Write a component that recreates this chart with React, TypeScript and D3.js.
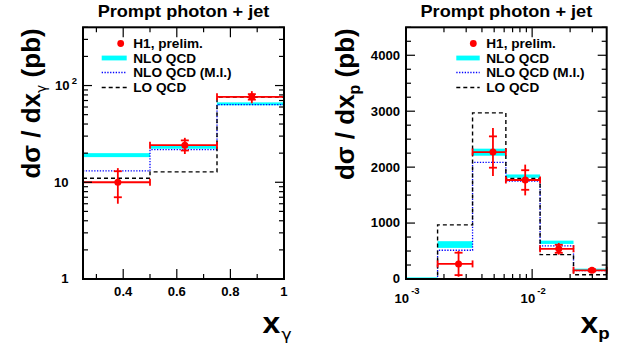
import React from 'react';
import * as d3 from 'd3';

const W = 626;
const H = 353;
const FONT = '"Liberation Sans", Arial, Helvetica, sans-serif';
const GREEK = '"DejaVu Sans", "Liberation Sans", sans-serif';

// ---------- Left panel: d sigma / d x_gamma ----------
const xgEdges = [0.25, 0.5, 0.75, 1.0];
const xgH1X = [0.38, 0.63, 0.88];
const xgH1 = [10, 24.2, 76.5];
const xgH1Stat = [3, 2.9, 5];
const xgH1Tot = [4, 4.6, 11];
const xgNloLow = [18.2, 22.2, 62.5];
const xgNloHigh = [20.0, 24.0, 67];
const xgNloMI = [13.1, 21.7, 63.5];
const xgLO = [11.0, 12.8, 76];
const xgXLabels = [0.4, 0.6, 0.8, 1];
const xgYLabels = [1, 10, 100];

// ---------- Right panel: d sigma / d x_p ----------
const xpEdges = [0.001, 0.00178, 0.00337, 0.00619, 0.01156, 0.02128, 0.039];
const xpH1X = [0.00261, 0.00489, 0.00881, 0.01626, 0.0298];
const xpH1 = [270, 2270, 1770, 540, 155];
const xpH1Stat = [200, 280, 175, 72, 20];
const xpH1Tot = [230, 430, 275, 105, 35];
const xpNloLow = [0, 556, 2204, 1810, 627, 161];
const xpNloHigh = [0, 676, 2330, 1869, 686, 185];
const xpNloMI = [0, 514, 2084, 1751, 591, 149];
const xpLO = [0, 968, 2970, 1798, 436, 77];
const xpXLabels = [0.001, 0.01];
const xpYLabels = [0, 1000, 2000, 3000, 4000];

const legendLabels = ['H1, prelim.', 'NLO QCD', 'NLO QCD (M.I.)', 'LO QCD'];
const titleText = 'Prompt photon + jet';

const RED = '#ff0000';
const CYAN = '#00ffff';
const BLUE = '#0000ff';

const top = 27.3;
const bottom = 279;
const SX = 1.1;

type Frame = { x0: number; x1: number };

function stepPath(edges: number[], vals: number[], xs: any, ys: any) {
  const pts: [number, number][] = vals.map((v, i) => [edges[i], v]);
  pts.push([edges[edges.length - 1], vals[vals.length - 1]]);
  const line = d3
    .line<[number, number]>()
    .x((d) => xs(d[0]))
    .y((d) => ys(d[1]))
    .curve(d3.curveStepAfter);
  return line(pts) || '';
}

function Ticks({ xs, ys, fr, xt, yt, xMajor, yMajor }: any) {
  const out: any[] = [];
  xt.forEach((v: number, i: number) => {
    const x = xs(v);
    const L = xMajor(v) ? 10 : 5;
    out.push(<line key={'xb' + i} x1={x} x2={x} y1={bottom} y2={bottom - L} stroke="#000" strokeWidth={1.2} />);
    out.push(<line key={'xt' + i} x1={x} x2={x} y1={top} y2={top + L} stroke="#000" strokeWidth={1.2} />);
  });
  yt.forEach((v: number, i: number) => {
    const y = ys(v);
    const L = yMajor(v) ? 9 : 5;
    out.push(<line key={'yl' + i} x1={fr.x0} x2={fr.x0 + L} y1={y} y2={y} stroke="#000" strokeWidth={1.2} />);
    out.push(<line key={'yr' + i} x1={fr.x1} x2={fr.x1 - L} y1={y} y2={y} stroke="#000" strokeWidth={1.2} />);
  });
  return <g>{out}</g>;
}

function Txt({ x, y, size, anchor = 'start', sx = SX, children }: any) {
  return (
    <text
      transform={`translate(${x},${y}) scale(${sx},1)`}
      fontSize={size}
      fontWeight="bold"
      fontFamily={FONT}
      textAnchor={anchor}
      fill="#000"
    >
      {children}
    </text>
  );
}

function Legend({ lx0, lx1, dotX, tx }: any) {
  const rows = [43.5, 58, 72.5, 87.5];
  return (
    <g>
      <circle cx={dotX} cy={rows[0]} r={3.4} fill={RED} />
      <rect x={lx0} y={rows[1] - 2.4} width={lx1 - lx0} height={4.8} fill={CYAN} />
      <line x1={lx0} x2={lx1} y1={rows[2]} y2={rows[2]} stroke={BLUE} strokeWidth={1.3} strokeDasharray="1.3 1.5" />
      <line x1={lx0} x2={lx1} y1={rows[3]} y2={rows[3]} stroke="#000" strokeWidth={1.4} strokeDasharray="4 3" />
      {legendLabels.map((t, i) => (
        <Txt key={i} x={tx} y={rows[i] + 4.6} size={12.6} sx={1.08}>
          {t}
        </Txt>
      ))}
    </g>
  );
}

function Points({ xs, ys, xv, vals, stat, tot, lo, hi }: any) {
  return (
    <g stroke={RED} strokeWidth={1.8} fill="none">
      {vals.map((v: number, i: number) => {
        const cx = xs(xv[i]);
        const cy = ys(v);
        const xl = xs(lo[i]);
        const xr = xs(hi[i]);
        return (
          <g key={i}>
            <line x1={xl} x2={xr} y1={cy} y2={cy} />
            <line x1={xl} x2={xl} y1={cy - 3.5} y2={cy + 3.5} />
            <line x1={xr} x2={xr} y1={cy - 3.5} y2={cy + 3.5} />
            <line x1={cx} x2={cx} y1={ys(v + tot[i])} y2={ys(v - tot[i])} />
            <line x1={cx - 4} x2={cx + 4} y1={ys(v + stat[i])} y2={ys(v + stat[i])} />
            <line x1={cx - 4} x2={cx + 4} y1={ys(v - stat[i])} y2={ys(v - stat[i])} />
            <circle cx={cx} cy={cy} r={3.5} fill={RED} stroke="none" />
          </g>
        );
      })}
    </g>
  );
}

function Bands({ xs, ys, edges, low, high }: any) {
  return (
    <g fill={CYAN}>
      {low.map((l: number, i: number) => {
        const y1 = ys(high[i]);
        const y2 = ys(l);
        const h = Math.max(y2 - y1, 1.6);
        return <rect key={i} x={xs(edges[i])} y={Math.min(y1, bottom - 1.6)} width={xs(edges[i + 1]) - xs(edges[i])} height={h} />;
      })}
    </g>
  );
}

export default function App() {
  // left panel
  const L: Frame = { x0: 83, x1: 284 };
  const xgS = d3.scaleLinear().domain([0.25, 1]).range([L.x0, L.x1]);
  const ygS = d3.scaleLog().domain([1, 400]).range([bottom, top]);
  const xgTicks = d3.range(3, 11).map((i) => i / 10);
  const ygTicks = ygS.ticks();

  // right panel
  const R: Frame = { x0: 406, x1: 606.7 };
  const xpS = d3.scaleLog().domain([0.001, 0.039]).range([R.x0, R.x1]);
  const ypS = d3.scaleLinear().domain([0, 4500]).range([bottom, top]);
  const xpTicks = xpS.ticks();
  const ypTicks = d3.range(0, 4501, 250);

  const isPow10 = (v: number) => Math.abs(Math.log10(v) - Math.round(Math.log10(v))) < 1e-6;

  return (
    <svg width={W} height={H} style={{ position: 'absolute', left: 0, top: 0, background: '#fff' }}>
      <rect x={0} y={0} width={W} height={H} fill="#fff" />

      {/* ---------- LEFT ---------- */}
      <Txt x={(L.x0 + L.x1) / 2} y={16.7} size={16.5} anchor="middle">
        {titleText}
      </Txt>
      <Bands xs={xgS} ys={ygS} edges={xgEdges} low={xgNloLow} high={xgNloHigh} />
      <path d={stepPath(xgEdges, xgNloMI, xgS, ygS)} fill="none" stroke={BLUE} strokeWidth={1.3} strokeDasharray="1.3 1.5" />
      <path d={stepPath(xgEdges, xgLO, xgS, ygS)} fill="none" stroke="#000" strokeWidth={1.4} strokeDasharray="4 3" />
      <Points
        xs={xgS}
        ys={ygS}
        xv={xgH1X}
        vals={xgH1}
        stat={xgH1Stat}
        tot={xgH1Tot}
        lo={xgEdges.slice(0, 3)}
        hi={xgEdges.slice(1)}
      />
      <Legend lx0={101.7} lx1={126.7} dotX={120.7} tx={133.3} />
      <Ticks
        xs={xgS}
        ys={ygS}
        fr={L}
        xt={xgTicks}
        yt={ygTicks}
        xMajor={(v: number) => Math.round(v * 10) % 2 === 0}
        yMajor={isPow10}
      />
      <rect x={L.x0} y={top} width={L.x1 - L.x0} height={bottom - top} fill="none" stroke="#000" strokeWidth={2} />
      {xgXLabels.map((v, i) => (
        <Txt key={i} x={xgS(v)} y={296} size={12.5} anchor="middle" sx={1.05}>
          {String(v)}
        </Txt>
      ))}
      {xgYLabels.map((v, i) =>
        v === 100 ? (
          <Txt key={i} x={55} y={ygS(v) + 4.2} size={12.5} sx={1.05}>
            10
            <tspan fontSize={9} dy={-6} dx={2}>
              2
            </tspan>
          </Txt>
        ) : (
          <Txt key={i} x={68.5} y={ygS(v) + 4.4} size={12.5} anchor="end" sx={1.05}>
            {String(v)}
          </Txt>
        )
      )}
      <text
        transform={`translate(40,${top + 1}) rotate(-90)`}
        fontSize={26}
        fontWeight="bold"
        fontFamily={FONT}
        textAnchor="end"
      >
        dσ / dx
        <tspan fontSize={14} dy={6} fontWeight="normal" fontFamily={GREEK}>
          γ
        </tspan>
        <tspan dy={-6}>{'  (pb)'}</tspan>
      </text>
      <Txt x={262.5} y={333} size={29}>
        x
        <tspan fontSize={16} dy={7} dx={1} fontWeight="normal" fontFamily={GREEK}>
          γ
        </tspan>
      </Txt>

      {/* ---------- RIGHT ---------- */}
      <Txt x={(R.x0 + R.x1) / 2} y={16.7} size={16.5} anchor="middle">
        {titleText}
      </Txt>
      <Bands xs={xpS} ys={ypS} edges={xpEdges} low={xpNloLow} high={xpNloHigh} />
      <path d={stepPath(xpEdges, xpNloMI, xpS, ypS)} fill="none" stroke={BLUE} strokeWidth={1.3} strokeDasharray="1.3 1.5" />
      <path d={stepPath(xpEdges, xpLO, xpS, ypS)} fill="none" stroke="#000" strokeWidth={1.4} strokeDasharray="4 3" />
      <Points
        xs={xpS}
        ys={ypS}
        xv={xpH1X}
        vals={xpH1}
        stat={xpH1Stat}
        tot={xpH1Tot}
        lo={xpEdges.slice(1, 6)}
        hi={xpEdges.slice(2)}
      />
      <Legend lx0={456.3} lx1={479.7} dotX={473.3} tx={486.3} />
      <Ticks
        xs={xpS}
        ys={ypS}
        fr={R}
        xt={xpTicks}
        yt={ypTicks}
        xMajor={isPow10}
        yMajor={(v: number) => v % 1000 === 0}
      />
      <rect x={R.x0} y={top} width={R.x1 - R.x0} height={bottom - top} fill="none" stroke="#000" strokeWidth={2} />
      {xpXLabels.map((v, i) => (
        <Txt key={i} x={xpS(v) + 1} y={303} size={12.5} anchor="middle" sx={1.05}>
          10
          <tspan fontSize={9} dy={-9} dx={2}>
            {String(Math.round(Math.log10(v)))}
          </tspan>
        </Txt>
      ))}
      {xpYLabels.map((v, i) => (
        <Txt key={i} x={400} y={ypS(v) + 4.4} size={12.5} anchor="end" sx={1.05}>
          {String(v)}
        </Txt>
      ))}
      <text
        transform={`translate(354,${top + 1}) rotate(-90)`}
        fontSize={26}
        fontWeight="bold"
        fontFamily={FONT}
        textAnchor="end"
      >
        dσ / dx
        <tspan fontSize={16} dy={6}>
          p
        </tspan>
        <tspan dy={-6}>{'  (pb)'}</tspan>
      </text>
      <Txt x={580.5} y={333} size={29}>
        x
        <tspan fontSize={17} dy={6}>
          p
        </tspan>
      </Txt>
    </svg>
  );
}
